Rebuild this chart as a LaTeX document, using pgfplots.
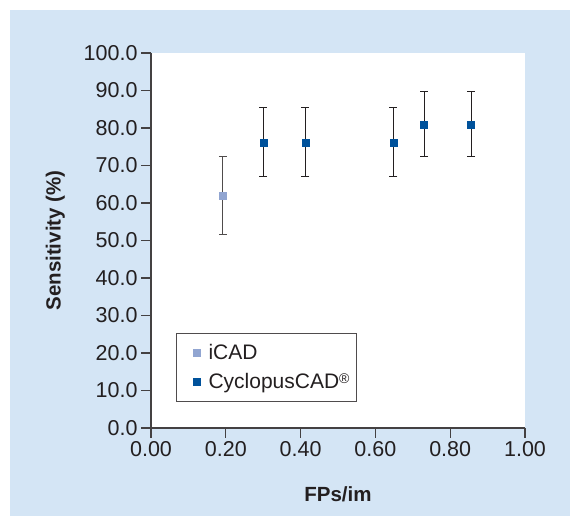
\documentclass[border=0pt]{standalone}
\usepackage{fontspec}
\setmainfont{Liberation Sans}
\usepackage{pgfplots}
\pgfplotsset{compat=1.18}
\definecolor{bgblue}{HTML}{D4E5F5}
\definecolor{icad}{HTML}{91A5D1}
\definecolor{cyclo}{HTML}{00529B}
\definecolor{ink}{HTML}{231F20}
\newcommand{\fs}{\fontsize{20.5}{24}\selectfont}
\newcommand{\ft}{\fontsize{21.5}{24}\selectfont}
\newcommand{\fl}{\fontsize{21}{24}\selectfont}
\begin{document}
\begin{tikzpicture}
\path (0pt,0pt) rectangle (570pt,516pt);
\fill[bgblue] (10pt,0pt) rectangle (570pt,506pt);
\begin{axis}[
at={(151pt,88pt)},anchor=south west,
scale only axis,width=374pt,height=375pt,
xmin=0,xmax=1,ymin=0,ymax=100,
axis x line*=bottom,axis y line*=left,
axis line style={-,ink!85,line width=1.1pt},
axis background/.style={fill=white},
xtick={0,0.2,0.4,0.6,0.8,1},
ytick={0,10,...,100},
tick align=outside,major tick length=10pt,
tick style={ink!85,line width=1.1pt},
/pgf/number format/assume math mode=true,
xticklabel style={/pgf/number format/.cd,fixed,fixed zerofill,precision=2},
yticklabel style={/pgf/number format/.cd,fixed,fixed zerofill,precision=1},
tick label style={font=\ft,text=ink},
xlabel={\textbf{FPs/im}},ylabel={\textbf{Sensitivity (\%)}},
label style={font=\fs,text=ink},
xlabel style={at={(axis description cs:0.5,-0.176)},anchor=center},
ylabel style={at={(axis description cs:-0.256,0.5)},anchor=center},
legend style={at={(0.067,0.253)},anchor=north west,font=\fl,text=ink,
  draw=ink!80,line width=0.9pt,inner xsep=5pt,inner ysep=9pt,row sep=8pt},
legend image code/.code={\path[draw=none] (0pt,0pt) -- (25pt,0pt); \path[#1] plot coordinates {(15pt,0pt)};},
legend cell align=left,
]
\addplot[only marks,mark=square*,mark size=3.5pt,icad,
  mark options={draw=icad,fill=icad},
  error bars/.cd,y dir=both,y explicit,
  error bar style={ink!80,line width=1pt},
  error mark options={rotate=90,mark size=4pt,line width=1pt,ink!80}]
coordinates {
(0.192,62.0) +- (0,10.5)
};
\addlegendentry{iCAD}
\addplot[only marks,mark=square*,mark size=3.5pt,cyclo,
  mark options={draw=cyclo,fill=cyclo},
  error bars/.cd,y dir=both,y explicit,
  error bar style={ink,line width=1pt},
  error mark options={rotate=90,mark size=4pt,line width=1pt,ink}]
coordinates {
(0.300,76.2) +- (0,9.2)
(0.413,76.2) +- (0,9.2)
(0.648,76.2) +- (0,9.2)
(0.730,81.0) +- (0,8.6)
(0.856,81.0) +- (0,8.6)
};
\addlegendentry{CyclopusCAD{\fontsize{14}{14}\selectfont\raisebox{5pt}{\textregistered}}\hspace{16pt}}
\end{axis}
\end{tikzpicture}
\end{document}
